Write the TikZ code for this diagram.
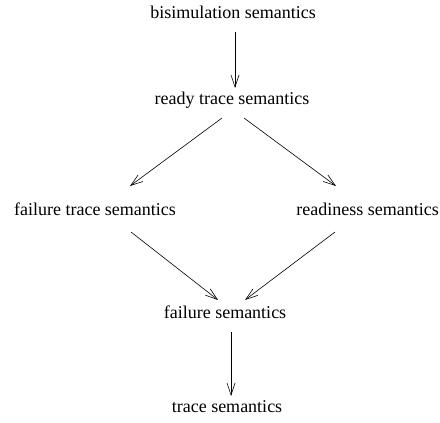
\documentclass[tikz,border=0pt]{standalone}
\usepackage{fontspec}
\setmainfont{Liberation Serif}
\usetikzlibrary{arrows.meta}
\begin{document}
\begin{tikzpicture}[x=1pt,y=1pt,
  lbl/.style={inner sep=0pt,font=\fontsize{18}{20}\selectfont},
  arr/.style={-{Straight Barb[length=12pt,width=8pt]},line width=0.6pt}]
\useasboundingbox (0,0) rectangle (440,-423);
\node[lbl] (bis) at (233,-12) {bisimulation semantics};
\node[lbl] (rt) at (232,-100) {ready trace semantics};
\node[lbl] (ft) at (95,-209) {failure trace semantics};
\node[lbl,anchor=east] (rd) at (439,-209) {readiness semantics};
\node[lbl] (f) at (225,-312) {failure semantics};
\node[lbl] (t) at (227,-407) {trace semantics};
\coordinate (a1) at (235,-32); \coordinate (a2) at (235,-88);
\coordinate (b1) at (222,-118); \coordinate (b2) at (130,-186);
\coordinate (c1) at (244,-118); \coordinate (c2) at (336,-186);
\coordinate (d1) at (131,-232); \coordinate (d2) at (218,-300);
\coordinate (e1) at (335,-232); \coordinate (e2) at (245,-300);
\coordinate (g1) at (231,-332); \coordinate (g2) at (231,-396);
\draw[arr] (a1) -- (a2);
\draw[arr] (b1) -- (b2);
\draw[arr] (c1) -- (c2);
\draw[arr] (d1) -- (d2);
\draw[arr] (e1) -- (e2);
\draw[arr] (g1) -- (g2);
\end{tikzpicture}
\end{document}
